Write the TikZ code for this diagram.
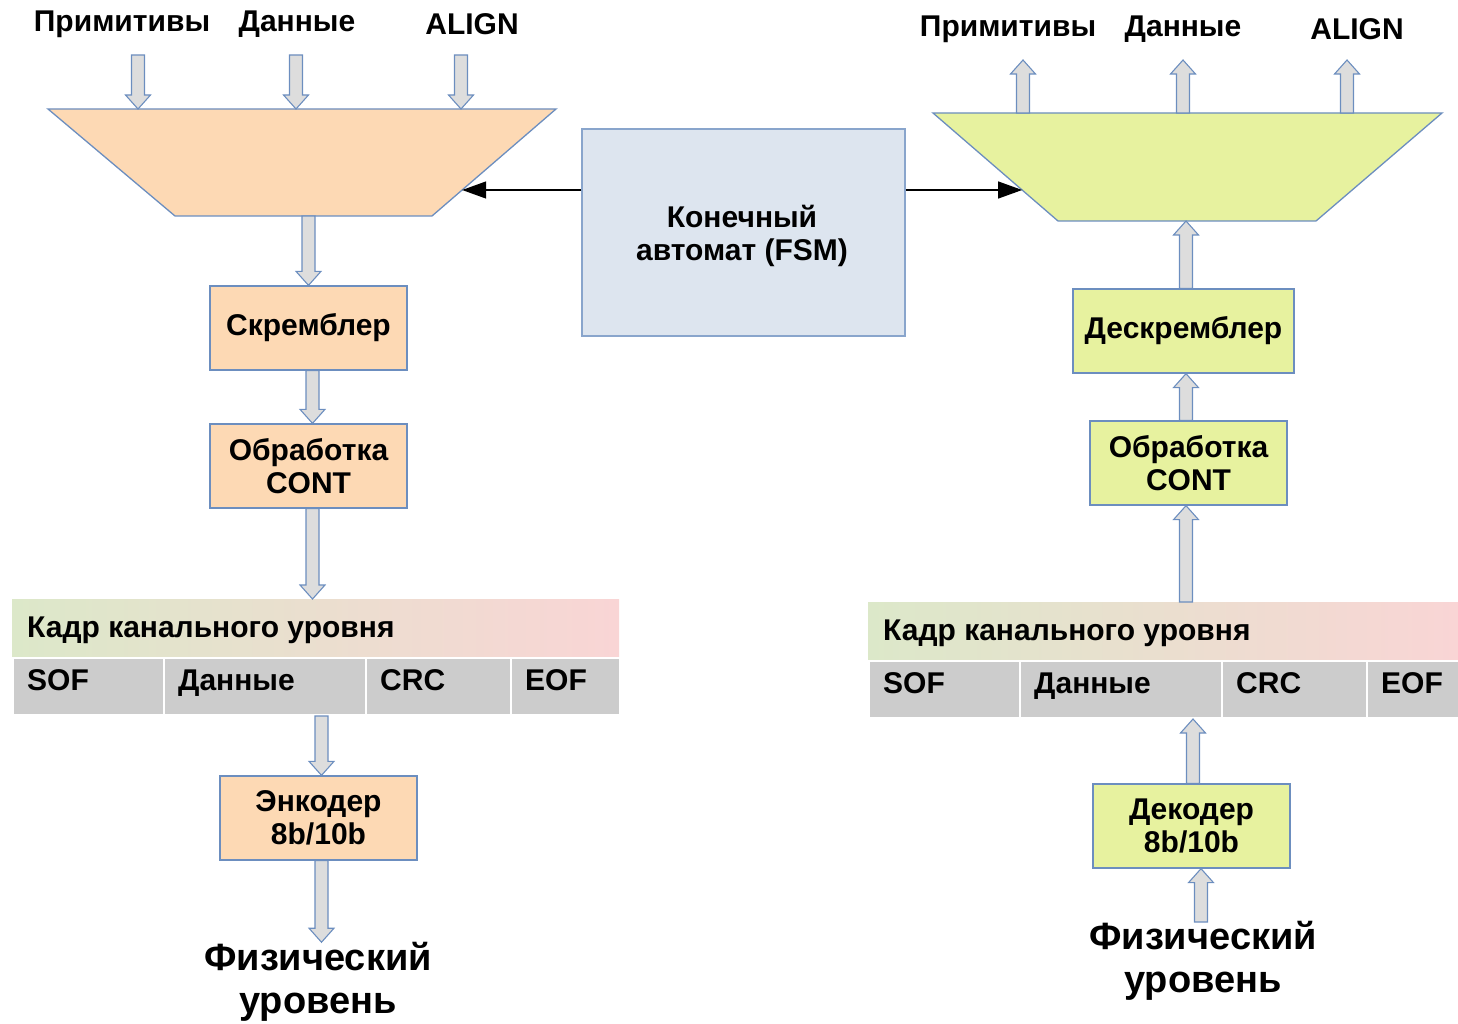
\documentclass[tikz,border=0pt]{standalone}
\usepackage{fontspec}
\setmainfont{Liberation Sans}
\usetikzlibrary{calc,arrows.meta}
\definecolor{peach}{HTML}{FDD9B4}
\definecolor{lime}{HTML}{E7F29F}
\definecolor{fsmfill}{HTML}{DDE5EF}
\definecolor{edge}{HTML}{6C8EBF}
\definecolor{agray}{HTML}{DDDDDD}
\definecolor{cellgray}{HTML}{CCCCCC}
\definecolor{hdrL}{HTML}{DCE8C9}
\definecolor{hdrR}{HTML}{F9D5D5}
\tikzset{
  every node/.style={font=\bfseries\fontsize{30}{33}\selectfont},
  box/.style={draw=edge, line width=1.3pt, minimum width=197pt, minimum height=84pt, inner sep=0pt, align=center},
  trap/.style={draw=edge, line width=1.3pt},
  barrowst/.style={draw=edge, fill=agray, line width=1.1pt, line join=miter},
  ctrl/.style={line width=1.2pt, -{Triangle[length=24pt,width=17pt]}},
  hdr/.style={minimum height=58pt, inner sep=0pt, left color=hdrL, right color=hdrR, draw=none, anchor=north west},
  cell/.style={fill=cellgray, draw=white, line width=2pt, minimum height=57pt, inner sep=0pt, anchor=north west},
  lbl/.style={anchor=base, inner sep=0pt},
  ctext/.style={anchor=base west, inner sep=0pt},
  phys/.style={font=\bfseries\fontsize{38}{43}\selectfont, align=center, inner sep=0pt},
}
\newcommand\barrow[2]{%
  \coordinate (ba-s) at #1;
  \coordinate (ba-e) at #2;
  \coordinate (ba-h) at ($(ba-e)!14pt!(ba-s)$);
  \draw[barrowst] ($(ba-s)!6.5pt!90:(ba-e)$) -- ($(ba-h)!6.5pt!90:(ba-e)$)
    -- ($(ba-h)!12.5pt!90:(ba-e)$) -- (ba-e) -- ($(ba-h)!12.5pt!-90:(ba-e)$)
    -- ($(ba-h)!6.5pt!-90:(ba-e)$) -- ($(ba-s)!6.5pt!-90:(ba-e)$) -- cycle;
}
\begin{document}
\begin{tikzpicture}[x=1pt,y=-1pt]
\useasboundingbox (0,0) rectangle (1458,1024);
% ---------- trapezoids
\coordinate (lt-tl) at (48,109); \coordinate (lt-tr) at (556,109);
\coordinate (lt-br) at (432,216); \coordinate (lt-bl) at (175,216);
\draw[trap, fill=peach] (lt-tl) -- (lt-tr) -- (lt-br) -- (lt-bl) -- cycle;
\coordinate (rt-tl) at (933,113); \coordinate (rt-tr) at (1442,113);
\coordinate (rt-br) at (1316,221); \coordinate (rt-bl) at (1058,221);
\draw[trap, fill=lime] (rt-tl) -- (rt-tr) -- (rt-br) -- (rt-bl) -- cycle;
% ---------- top labels
\node[lbl] (lprim) at (122,32) {Примитивы};
\node[lbl] (ldata) at (297,32) {Данные};
\node[lbl] (lalign) at (472,35) {ALIGN};
\node[lbl] (rprim) at (1008,37) {Примитивы};
\node[lbl] (rdata) at (1183,37) {Данные};
\node[lbl] (ralign) at (1357,40) {ALIGN};
% ---------- FSM
\node[box, fill=fsmfill, draw=edge!80, minimum width=323pt, minimum height=207pt] (fsm) at (743.5,232.5) {};
\node[align=center, inner sep=0pt] (fsmt) at (742,235.5) {Конечный\\автомат (FSM)};
\coordinate (lhit) at ($(lt-tr)!0.757!(lt-br)$);
\coordinate (rhit) at ($(rt-tl)!0.713!(rt-bl)$);
\draw[ctrl] (fsm.west |- lhit) -- (lhit);
\draw[ctrl] (fsm.east |- rhit) -- (rhit);
% ---------- left chain
\node[box, fill=peach] (scr) at (308.5,328) {Скремблер};
\node[box, fill=peach] (lcont) at (308.5,466) {Обработка\\CONT};
\node[box, fill=peach] (enc) at (318.5,818) {Энкодер\\8b/10b};
\node[phys] (lphys) at (318,982) {Физический\\уровень};
% left frame
\node[hdr, minimum width=607pt] (lhdr) at (12,599) {};
\node[ctext] (lhdrt) at (27,637) {Кадр канального уровня};
\node[cell, minimum width=151pt] (lsof) at (12,657) {};
\node[cell, minimum width=202pt] (ldat) at (163,657) {};
\node[cell, minimum width=145pt] (lcrc) at (365,657) {};
\node[cell, minimum width=109pt] (leof) at (510,657) {};
\node[ctext] (lsoft) at (27,690) {SOF};
\node[ctext] (ldatt) at (178,690) {Данные};
\node[ctext] (lcrct) at (380,690) {CRC};
\node[ctext] (leoft) at (525,690) {EOF};
% left arrows
\coordinate (lin1) at (138,55); \coordinate (lin2) at (296,55); \coordinate (lin3) at (461,55);
\barrow{(lin1)}{(lin1 |- lt-tl)}
\barrow{(lin2)}{(lin2 |- lt-tl)}
\barrow{(lin3)}{(lin3 |- lt-tl)}
\barrow{(scr.north |- lt-bl)}{(scr.north)}
\coordinate (la2) at ($(scr.south)+(4,0)$);
\barrow{(la2)}{(la2 |- lcont.north)}
\coordinate (la3) at ($(lcont.south)+(4,0)$);
\barrow{(la3)}{(la3 |- lhdr.north)}
\coordinate (la4) at ($(enc.north)+(3,0)$);
\barrow{(la4 |- lsof.south)}{(la4)}
\coordinate (la5) at ($(enc.south)+(3,0)$);
\barrow{(la5)}{(la5 |- lphys.north)}
% ---------- right chain
\node[box, fill=lime, minimum width=221pt] (dscr) at (1183.5,331) {Дескремблер};
\node[box, fill=lime] (rcont) at (1188.5,463) {Обработка\\CONT};
\node[box, fill=lime] (dec) at (1191.5,826) {Декодер\\8b/10b};
\node[phys] (rphys) at (1203,961) {Физический\\уровень};
% right frame
\node[hdr, minimum width=590pt] (rhdr) at (868,602) {};
\node[ctext] (rhdrt) at (883,640) {Кадр канального уровня};
\node[cell, minimum width=151pt] (rsof) at (868,660) {};
\node[cell, minimum width=202pt] (rdat) at (1019,660) {};
\node[cell, minimum width=145pt] (rcrc) at (1221,660) {};
\node[cell, minimum width=92pt] (reof) at (1366,660) {};
\node[ctext] (rsoft) at (883,693) {SOF};
\node[ctext] (rdatt) at (1034,693) {Данные};
\node[ctext] (rcrct) at (1236,693) {CRC};
\node[ctext] (reoft) at (1381,693) {EOF};
% right arrows
\coordinate (rout1) at (1023,60); \coordinate (rout2) at (1183,60); \coordinate (rout3) at (1347,60);
\barrow{(rout1 |- rt-tl)}{(rout1)}
\barrow{(rout2 |- rt-tl)}{(rout2)}
\barrow{(rout3 |- rt-tl)}{(rout3)}
\coordinate (ra1) at ($(dscr.north)+(2.5,0)$);
\barrow{(ra1)}{(ra1 |- rt-bl)}
\coordinate (ra2) at ($(rcont.north)+(-2.5,0)$);
\barrow{(ra2)}{(ra2 |- dscr.south)}
\coordinate (ra3) at ($(rcont.south)+(-2.5,0)$);
\barrow{(ra3 |- rhdr.north)}{(ra3)}
\coordinate (ra4) at ($(dec.north)+(1.5,0)$);
\barrow{(ra4)}{(ra4 |- rsof.south)}
\coordinate (ra5) at ($(dec.south)+(9.5,0)$);
\barrow{(ra5 |- 0,922)}{(ra5)}
\end{tikzpicture}
\end{document}
